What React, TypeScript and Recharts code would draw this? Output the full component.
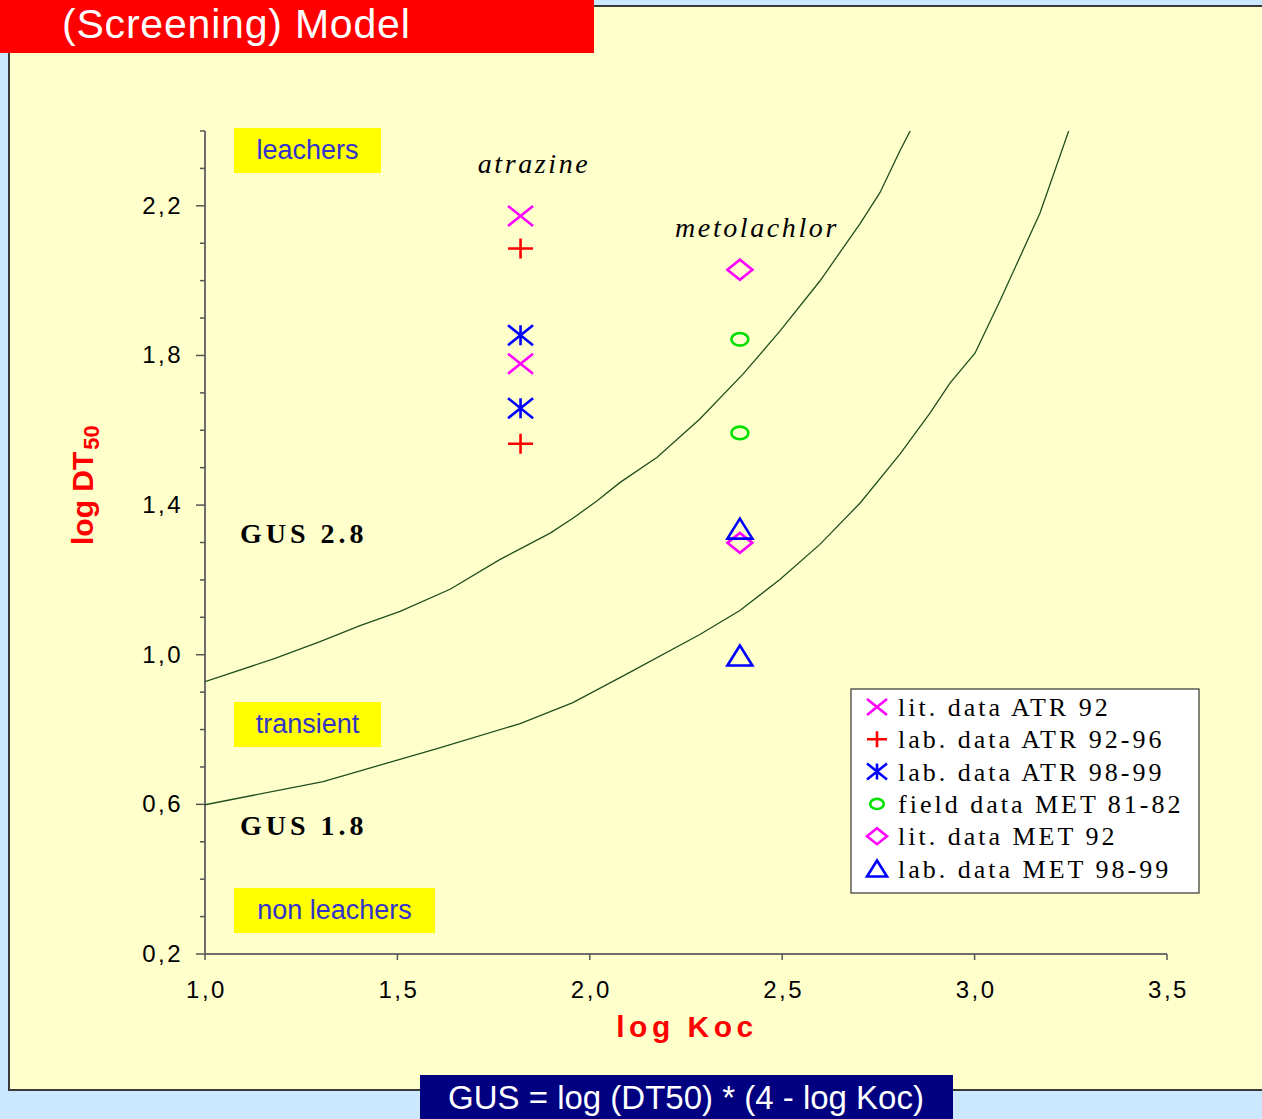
import { Scatter, ScatterChart, XAxis, YAxis } from "recharts";

// measured points (log Koc, log DT50)
const litAtr92 = [
  { x: 1.82, y: 2.173 },
  { x: 1.82, y: 1.778 },
];
const labAtr9296 = [
  { x: 1.82, y: 2.086 },
  { x: 1.82, y: 1.564 },
];
const labAtr9899 = [
  { x: 1.82, y: 1.854 },
  { x: 1.82, y: 1.659 },
];
const fieldMet8182 = [
  { x: 2.39, y: 1.843 },
  { x: 2.39, y: 1.593 },
];
const litMet92 = [
  { x: 2.39, y: 2.029 },
  { x: 2.39, y: 1.299 },
];
const labMet9899 = [
  { x: 2.39, y: 1.337 },
  { x: 2.39, y: 0.998 },
];

// GUS boundary curves
const gus28 = [
  { x: 1.0, y: 0.928 },
  { x: 1.182, y: 0.99 },
  { x: 1.299, y: 1.035 },
  { x: 1.403, y: 1.078 },
  { x: 1.507, y: 1.116 },
  { x: 1.637, y: 1.175 },
  { x: 1.767, y: 1.255 },
  { x: 1.897, y: 1.325 },
  { x: 1.956, y: 1.365 },
  { x: 2.02, y: 1.412 },
  { x: 2.078, y: 1.46 },
  { x: 2.175, y: 1.528 },
  { x: 2.286, y: 1.63 },
  { x: 2.398, y: 1.75 },
  { x: 2.494, y: 1.865 },
  { x: 2.598, y: 1.999 },
  { x: 2.702, y: 2.152 },
  { x: 2.754, y: 2.235 },
  { x: 2.806, y: 2.347 },
  { x: 2.845, y: 2.425 },
];
const gus18 = [
  { x: 1.0, y: 0.599 },
  { x: 1.307, y: 0.661 },
  { x: 1.603, y: 0.749 },
  { x: 1.819, y: 0.816 },
  { x: 1.956, y: 0.872 },
  { x: 2.099, y: 0.95 },
  { x: 2.286, y: 1.054 },
  { x: 2.39, y: 1.118 },
  { x: 2.494, y: 1.201 },
  { x: 2.598, y: 1.295 },
  { x: 2.702, y: 1.405 },
  { x: 2.806, y: 1.536 },
  { x: 2.884, y: 1.646 },
  { x: 2.936, y: 1.726 },
  { x: 3.001, y: 1.806 },
  { x: 3.066, y: 1.946 },
  { x: 3.17, y: 2.181 },
  { x: 3.253, y: 2.425 },
];

const xTicks = [1.0, 1.5, 2.0, 2.5, 3.0, 3.5];
const xTickLabels = ["1,0", "1,5", "2,0", "2,5", "3,0", "3,5"];
const yTicks = [
  0.2, 0.3, 0.4, 0.5, 0.6, 0.7, 0.8, 0.9, 1.0, 1.1, 1.2, 1.3, 1.4, 1.5, 1.6,
  1.7, 1.8, 1.9, 2.0, 2.1, 2.2, 2.3, 2.4,
];
const yTickLabels = [
  "0,2", "", "", "", "0,6", "", "", "", "1,0", "", "", "", "1,4", "", "", "",
  "1,8", "", "", "", "2,2", "", "",
];

const series = [
  { name: "lit. data ATR 92", data: litAtr92, kind: "x", color: "#ff00ff" },
  { name: "lab. data ATR 92-96", data: labAtr9296, kind: "plus", color: "#ff0000" },
  { name: "lab. data ATR 98-99", data: labAtr9899, kind: "star", color: "#0000ff" },
  { name: "field data MET 81-82", data: fieldMet8182, kind: "circle", color: "#00e000" },
  { name: "lit. data MET 92", data: litMet92, kind: "diamond", color: "#ff00ff" },
  { name: "lab. data MET 98-99", data: labMet9899, kind: "triangle", color: "#0000ff" },
];

const SANS = "'Liberation Sans', Arial, sans-serif";
const SERIF = "'Liberation Serif', 'Times New Roman', serif";

function Marker({ kind, cx = 0, cy = 0, color, s = 1 }: any) {
  const w = 12.5 * s;
  const h = 10 * s;
  const st = { stroke: color, strokeWidth: 2.6, fill: "none" };
  if (kind === "x")
    return <path d={`M${cx - w},${cy - h}L${cx + w},${cy + h}M${cx - w},${cy + h}L${cx + w},${cy - h}`} {...st} />;
  if (kind === "plus")
    return <path d={`M${cx - w},${cy}L${cx + w},${cy}M${cx},${cy - h}L${cx},${cy + h}`} {...st} />;
  if (kind === "star")
    return (
      <path
        d={`M${cx - w},${cy - h}L${cx + w},${cy + h}M${cx - w},${cy + h}L${cx + w},${cy - h}M${cx},${cy - h}L${cx},${cy + h}`}
        {...st}
      />
    );
  if (kind === "circle") return <ellipse cx={cx} cy={cy} rx={8.5 * s} ry={6.3 * s} {...st} />;
  if (kind === "diamond")
    return <polygon points={`${cx - w},${cy} ${cx},${cy - h} ${cx + w},${cy} ${cx},${cy + h}`} {...st} />;
  return <polygon points={`${cx},${cy - h} ${cx + w},${cy + h} ${cx - w},${cy + h}`} {...st} />;
}

function YTick({ x, y, index }: any) {
  const label = yTickLabels[index];
  return (
    <g>
      <line x1={x} x2={x - (label ? 9 : 5)} y1={y} y2={y} stroke="#555" strokeWidth={1.5} />
      {label && (
        <text x={x - 22} y={y + 8} textAnchor="end" fontFamily={SANS} fontSize={24} letterSpacing={2.5} fill="#000">
          {label}
        </text>
      )}
    </g>
  );
}

function XTick({ x, y, index }: any) {
  return (
    <g>
      <line x1={x} x2={x} y1={y} y2={y + 6} stroke="#555" strokeWidth={1.5} />
      <text x={x + 1.5} y={y + 44} textAnchor="middle" fontFamily={SANS} fontSize={24} letterSpacing={2.5} fill="#000">
        {xTickLabels[index]}
      </text>
    </g>
  );
}

function YLabel() {
  return (
    <text transform="translate(93,545) rotate(-90)" fontFamily={SANS} fontWeight="bold" fontSize={30} fill="#ff0000">
      log DT
      <tspan fontSize={22} dy={6} dx={2}>
        50
      </tspan>
    </text>
  );
}

function XLabel() {
  return (
    <text x={687} y={1037} textAnchor="middle" fontFamily={SANS} fontWeight="bold" fontSize={30} letterSpacing={4.5} fill="#ff0000">
      log Koc
    </text>
  );
}

function Box({ x, y, w, label }: any) {
  return (
    <g>
      <rect x={x} y={y} width={w} height={45} fill="#ffff00" />
      <text x={x + w / 2} y={y + 31} textAnchor="middle" fontFamily={SANS} fontSize={27} fill="#3333cc">
        {label}
      </text>
    </g>
  );
}

export default function App() {
  return (
    <div style={{ position: "absolute", left: 0, top: 0, width: 1262, height: 1119, overflow: "hidden", background: "#cce8ff" }}>
      <div
        style={{
          position: "absolute",
          left: 8,
          top: 5,
          width: 1270,
          height: 1082,
          background: "#ffffcc",
          border: "2px solid #3a3a3a",
        }}
      />
      <div style={{ position: "absolute", left: 0, top: 0 }}>
        <ScatterChart width={1262} height={1119} margin={{ top: 131, right: 95, bottom: 105, left: 145 }}>
          <XAxis
            type="number"
            dataKey="x"
            domain={[1, 3.5]}
            ticks={xTicks}
            interval={0}
            height={60}
            tickSize={0}
            tickMargin={0}
            tickLine={false}
            tick={<XTick />}
            axisLine={{ stroke: "#6e6e6e", strokeWidth: 2 }}
            allowDataOverflow
          />
          <YAxis
            type="number"
            dataKey="y"
            domain={[0.2, 2.4]}
            ticks={yTicks}
            interval={0}
            width={60}
            tickSize={0}
            tickMargin={0}
            tickLine={false}
            tick={<YTick />}
            axisLine={{ stroke: "#6e6e6e", strokeWidth: 2 }}
            allowDataOverflow
          />
          <Scatter data={gus28} line={{ stroke: "#1f4f1f", strokeWidth: 1.3 }} shape={() => <g />} isAnimationActive={false} />
          <Scatter data={gus18} line={{ stroke: "#1f4f1f", strokeWidth: 1.3 }} shape={() => <g />} isAnimationActive={false} />
          {series.map((s) => (
            <Scatter
              key={s.name}
              name={s.name}
              data={s.data}
              isAnimationActive={false}
              shape={(p: any) => <Marker kind={s.kind} color={s.color} cx={p.cx} cy={p.cy} />}
            />
          ))}
        </ScatterChart>
      </div>
      <svg width={1262} height={1119} style={{ position: "absolute", left: 0, top: 0, pointerEvents: "none" }}>
        <rect x={0} y={0} width={594} height={53} fill="#ff0000" />
        <text x={62} y={38} fontFamily={SANS} fontSize={41} letterSpacing={0.8} fill="#fff">
          (Screening) Model
        </text>
        <rect x={420} y={1075} width={533} height={44} fill="#000080" />
        <text x={686} y={1109} textAnchor="middle" fontFamily={SANS} fontSize={33} fill="#fff">
          GUS = log (DT50) * (4 - log Koc)
        </text>
        <YLabel />
        <XLabel />
        <Box x={234} y={128} w={147} label="leachers" />
        <Box x={234} y={702} w={147} label="transient" />
        <Box x={234} y={888} w={201} label="non leachers" />
        <text x={240} y={543} fontFamily={SERIF} fontWeight="bold" fontSize={28} letterSpacing={4} fill="#000">
          GUS  2.8
        </text>
        <text x={240} y={835} fontFamily={SERIF} fontWeight="bold" fontSize={28} letterSpacing={4} fill="#000">
          GUS  1.8
        </text>
        <text x={534} y={173} textAnchor="middle" fontFamily={SERIF} fontStyle="italic" fontSize={28} letterSpacing={2.6} fill="#000">
          atrazine
        </text>
        <text x={757} y={237} textAnchor="middle" fontFamily={SERIF} fontStyle="italic" fontSize={28} letterSpacing={2.6} fill="#000">
          metolachlor
        </text>
        <rect x={851} y={689} width={348} height={204} fill="#fff" stroke="#333" strokeWidth={1.2} />
        {series.map((s, i) => (
          <g key={s.name}>
            <Marker kind={s.kind} color={s.color} cx={877} cy={707 + i * 32.3} s={0.8} />
            <text x={898} y={716 + i * 32.3} fontFamily={SERIF} fontSize={26} letterSpacing={3} fill="#000">
              {s.name}
            </text>
          </g>
        ))}
      </svg>
    </div>
  );
}
